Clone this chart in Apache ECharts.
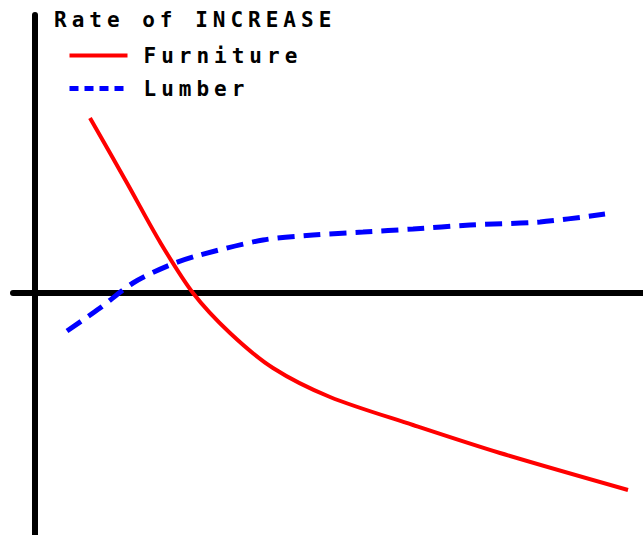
<!DOCTYPE html>
<html>
<head>
<meta charset="utf-8">
<script src="https://cdn.jsdelivr.net/npm/echarts@6/dist/echarts.min.js"></script>
<style>
  html, body { margin: 0; padding: 0; background: #fff; }
  #chart { width: 643px; height: 535px; }
  #chart text { letter-spacing: 5px; }
</style>
</head>
<body>
<div id="chart"></div>
<script>
// x / y (arbitrary units, origin where the axes cross)
const furnitureX = [5.5, 9.2, 12.5, 15.8, 19.5, 23.8, 29.5, 37.8, 46.5, 59.3]
const furnitureY = [17.5, 11.0, 5.1, 0, -4.0, -7.5, -10.4, -13.2, -16.0, -19.7]
const lumberX = [3.2, 6.5, 9.8, 13.5, 16.5, 22.8, 27.8, 32.8, 37.8, 43.5, 50.5, 57.0]
const lumberY = [-3.8, -1.5, 1.0, 2.8, 3.8, 5.3, 5.8, 6.1, 6.4, 6.8, 7.1, 7.9]

const titleText = 'Rate of INCREASE'
const seriesNames = ['Furniture', 'Lumber']

const zip = (xs, ys) => xs.map((x, i) => [x, ys[i]])

const chart = echarts.init(document.getElementById('chart'), null, { renderer: 'svg' })

const font = '"DejaVu Sans Mono", monospace'

chart.setOption({
  backgroundColor: '#fff',
  animation: false,
  title: {
    text: titleText,
    left: 54,
    top: 9,
    padding: 0,
    textStyle: { fontFamily: font, fontSize: 21, fontWeight: 'bold', color: '#000' },
  },
  legend: {
    orient: 'vertical',
    left: 67,
    top: 45,
    padding: 0,
    itemWidth: 58,
    itemHeight: 14,
    itemGap: 12,
    itemStyle: { opacity: 0 },
    textStyle: { fontFamily: font, fontSize: 21, fontWeight: 'bold', color: '#000', padding: [0, 0, 0, 11] },
    data: [
      { name: seriesNames[0], lineStyle: { width: 4 } },
      { name: seriesNames[1], lineStyle: { width: 5, type: [9, 6] } },
    ],
  },
  grid: { left: 13, right: 0, top: 15, bottom: 0 },
  xAxis: {
    type: 'value',
    min: -2.2,
    max: 60.8,
    axisLine: { onZero: true, lineStyle: { color: '#000', width: 6, cap: 'round' } },
    axisTick: { show: false },
    axisLabel: { show: false },
    splitLine: { show: false },
  },
  yAxis: {
    type: 'value',
    min: -24.2,
    max: 27.8,
    axisLine: { show: true, onZero: true, lineStyle: { color: '#000', width: 6, cap: 'round' } },
    axisTick: { show: false },
    axisLabel: { show: false },
    splitLine: { show: false },
  },
  series: [
    {
      name: seriesNames[0],
      type: 'line',
      data: zip(furnitureX, furnitureY),
      smooth: 0.3,
      symbol: 'none',
      color: '#ff0000',
      lineStyle: { color: '#ff0000', width: 4 },
    },
    {
      name: seriesNames[1],
      type: 'line',
      data: zip(lumberX, lumberY),
      smooth: 0.3,
      symbol: 'none',
      color: '#0000ff',
      lineStyle: { color: '#0000ff', width: 5, type: [17, 9] },
    },
  ],
})
</script>
</body>
</html>
